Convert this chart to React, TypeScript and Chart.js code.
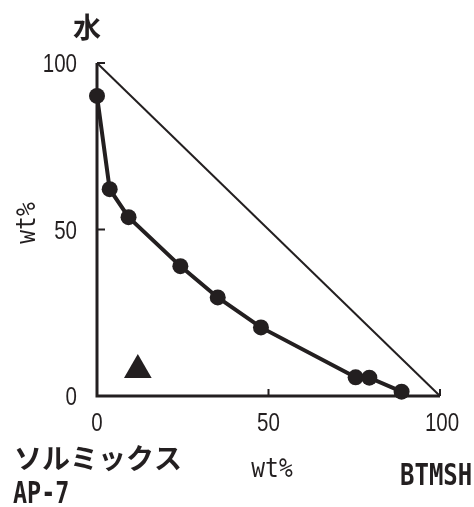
import { useEffect, useRef } from "react";
import { Chart, registerables } from "chart.js";

Chart.register(...registerables);

// Phase boundary: BTMSH wt% (x) against water wt% (y)
const btmshWt = [0, 3.7, 9.2, 24.3, 35.2, 47.8, 75.4, 79.4, 88.8];
const waterWt = [90.1, 62.1, 53.7, 39.0, 29.6, 20.6, 5.6, 5.5, 1.3];

// Single sample point
const sampleBtmsh = [11.9];
const sampleWater = [7.8];

// Hypotenuse of the composition triangle
const edgeBtmsh = [0, 100];
const edgeWater = [100, 0];

// Axis ticks
const tickValues = [0, 50, 100];
const xTickLabels = ["0", "50", "100"];
const yTickLabels = ["0", "50", "100"];

// Corner and axis texts
const topCorner = "水";
const leftCorner = ["ソルミックス", "AP-7"];
const rightCorner = "BTMSH";
const axisTitle = "wt%";

const INK = "#231f20";
const W = 474;
const H = 507;

const toPoints = (xs: number[], ys: number[]) => xs.map((v, i) => ({ x: v, y: ys[i] }));

// draws text narrowed horizontally by sx, anchored per the current textAlign
const squeezed = (ctx: CanvasRenderingContext2D, text: string, x: number, y: number, sx: number) => {
  ctx.save();
  ctx.translate(x, y);
  ctx.scale(sx, 1);
  ctx.fillText(text, 0, 0);
  ctx.restore();
};

const framePlugin = {
  id: "triangleFrame",
  beforeDatasetsDraw(chart: any) {
    const { ctx } = chart;
    const xs = chart.scales.x;
    const ys = chart.scales.y;
    const x0 = xs.getPixelForValue(0);
    const x100 = xs.getPixelForValue(100);
    const y0 = ys.getPixelForValue(0);
    const y100 = ys.getPixelForValue(100);
    ctx.save();
    ctx.strokeStyle = INK;
    ctx.lineWidth = 3;
    ctx.lineJoin = "miter";
    ctx.beginPath();
    ctx.moveTo(x0, y100);
    ctx.lineTo(x0, y0);
    ctx.lineTo(x100, y0);
    ctx.stroke();
    // inward tick marks
    ctx.lineWidth = 2;
    ctx.beginPath();
    tickValues.forEach((v) => {
      if (v === 0) return;
      const px = xs.getPixelForValue(v);
      ctx.moveTo(px, y0);
      ctx.lineTo(px, y0 - 7);
      const py = ys.getPixelForValue(v);
      ctx.moveTo(x0, py);
      ctx.lineTo(x0 + 8, py);
    });
    ctx.stroke();
    ctx.restore();
  },
  afterDraw(chart: any) {
    const { ctx } = chart;
    const xs = chart.scales.x;
    const ys = chart.scales.y;
    const x0 = xs.getPixelForValue(0);
    const y0 = ys.getPixelForValue(0);
    ctx.save();
    ctx.fillStyle = INK;

    // tick labels
    ctx.font = "25px 'Liberation Sans', Arial, sans-serif";
    ctx.textBaseline = "alphabetic";
    ctx.textAlign = "right";
    tickValues.forEach((v, i) => {
      squeezed(ctx, yTickLabels[i], x0 - 20, ys.getPixelForValue(v) + 9, 0.82);
    });
    ctx.textAlign = "center";
    tickValues.forEach((v, i) => {
      squeezed(ctx, xTickLabels[i], xs.getPixelForValue(v) + (v === 100 ? 2 : 0), y0 + 35, 0.82);
    });

    // axis titles
    ctx.font = "26px 'DejaVu Sans Mono', monospace";
    ctx.textAlign = "center";
    squeezed(ctx, axisTitle, 272, 477, 0.88);
    ctx.save();
    ctx.translate(35, 223);
    ctx.rotate(-Math.PI / 2);
    ctx.scale(0.88, 1);
    ctx.fillText(axisTitle, 0, 0);
    ctx.restore();

    // corner labels
    ctx.font = "bold 28px 'Noto Sans CJK JP', sans-serif";
    ctx.textBaseline = "middle";
    ctx.textAlign = "center";
    ctx.fillText(topCorner, 87, 27);
    ctx.textAlign = "left";
    ctx.fillText(leftCorner[0], 14, 458);

    ctx.font = "bold 30px 'DejaVu Sans Mono', monospace";
    ctx.textBaseline = "alphabetic";
    ctx.textAlign = "left";
    squeezed(ctx, leftCorner[1], 13, 503, 0.78);
    squeezed(ctx, rightCorner, 400, 485, 0.8);
    ctx.restore();
  },
};

export default function App() {
  const canvasRef = useRef<HTMLCanvasElement | null>(null);

  useEffect(() => {
    const canvas = canvasRef.current;
    if (!canvas) return;
    const chart = new Chart(canvas, {
      type: "scatter",
      data: {
        datasets: [
          {
            data: toPoints(edgeBtmsh, edgeWater),
            showLine: true,
            borderColor: INK,
            borderWidth: 2,
            pointRadius: 0,
            clip: false,
          },
          {
            data: toPoints(btmshWt, waterWt),
            showLine: true,
            borderColor: INK,
            borderWidth: 4,
            pointRadius: 8,
            pointBackgroundColor: INK,
            pointBorderWidth: 0,
            clip: false,
          },
          {
            data: toPoints(sampleBtmsh, sampleWater),
            showLine: false,
            pointStyle: "triangle",
            pointRadius: 16,
            pointBackgroundColor: INK,
            pointBorderWidth: 0,
            clip: false,
          },
        ],
      } as any,
      options: {
        responsive: false,
        animation: false,
        devicePixelRatio: 1,
        layout: { padding: { left: 97, right: 34, top: 63, bottom: 111 } },
        scales: {
          x: { type: "linear", min: 0, max: 100, display: false },
          y: { type: "linear", min: 0, max: 100, display: false },
        },
        plugins: {
          legend: { display: false },
          tooltip: { enabled: false },
        },
      },
      plugins: [framePlugin],
    });
    return () => chart.destroy();
  }, []);

  return (
    <div style={{ position: "fixed", left: 0, top: 0, width: W, height: H, background: "#fff" }}>
      <canvas ref={canvasRef} width={W} height={H} style={{ width: W, height: H, display: "block" }} />
    </div>
  );
}
